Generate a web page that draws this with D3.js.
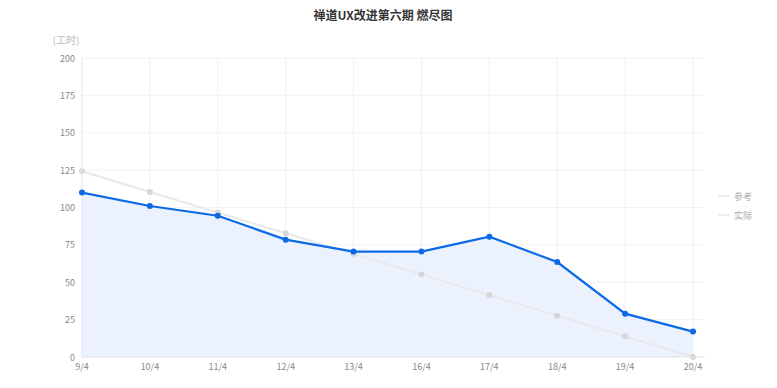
<!DOCTYPE html>
<html>
<head>
<meta charset="utf-8">
<script src="https://cdn.jsdelivr.net/npm/d3@7"></script>
<style>
  html, body { margin: 0; padding: 0; background: #fff; }
  svg { display: block; font-family: "Noto Sans CJK SC", "Noto Sans", sans-serif; }
</style>
</head>
<body>
<svg id="chart" width="777" height="388"></svg>
<script>
// ─── Data ─────────────────────────────────────────────────────────────────────
const categories = ['9/4', '10/4', '11/4', '12/4', '13/4', '16/4', '17/4', '18/4', '19/4', '20/4'];
const planned    = [124.2, 110.4, 96.6, 82.8, 69, 55.2, 41.4, 27.6, 13.8, 0];
const actual     = [110, 101, 94.5, 78.5, 70.5, 70.5, 80.5, 63.5, 29, 17];
const yTicks     = [0, 25, 50, 75, 100, 125, 150, 175, 200];
const seriesNames = ['参考', '实际'];

const plotL = 82, plotR = 693, gridR = 705, plotT = 58, plotB = 357;

const svg = d3.select('#chart');

const x = d3.scalePoint().domain(categories).range([plotL, plotR]);
const y = d3.scaleLinear().domain([0, 200]).range([plotB, plotT]);

// ─── Title ────────────────────────────────────────────────────────────────────
svg.append('text')
  .attr('x', 383).attr('y', 20)
  .attr('text-anchor', 'middle')
  .attr('font-size', 12).attr('font-weight', 'bold')
  .attr('fill', '#333')
  .text('禅道UX改进第六期 燃尽图');

svg.append('text')
  .attr('x', 66).attr('y', 44)
  .attr('text-anchor', 'middle')
  .attr('font-size', 10).attr('fill', '#bbb')
  .text('(工时)');

// ─── Grid ─────────────────────────────────────────────────────────────────────
const grid = svg.append('g');
grid.selectAll('line.h')
  .data(yTicks.filter(d => d > 0))
  .join('line')
  .attr('class', 'h')
  .attr('x1', plotL).attr('x2', gridR)
  .attr('y1', d => y(d)).attr('y2', d => y(d))
  .attr('stroke', '#f3f3f5');
grid.selectAll('line.v')
  .data(categories)
  .join('line')
  .attr('class', 'v')
  .attr('x1', d => x(d)).attr('x2', d => x(d))
  .attr('y1', plotT).attr('y2', plotB)
  .attr('stroke', '#f1f1f5');

// ─── Area + lines ─────────────────────────────────────────────────────────────
const area = d3.area()
  .x((d, i) => x(categories[i]))
  .y0(y(0))
  .y1(d => y(d));
svg.append('path')
  .datum(actual)
  .attr('d', area)
  .attr('fill', '#ebf2fe');

const line = d3.line().x((d, i) => x(categories[i])).y(d => y(d));

svg.append('path')
  .datum(planned)
  .attr('d', line)
  .attr('fill', 'none')
  .attr('stroke', '#e8e8ea')
  .attr('stroke-width', 2);
svg.append('g').selectAll('circle')
  .data(planned)
  .join('circle')
  .attr('cx', (d, i) => x(categories[i]))
  .attr('cy', d => y(d))
  .attr('r', 3)
  .attr('fill', '#d6d6d8');

// axes
svg.append('line')
  .attr('x1', plotL).attr('x2', gridR)
  .attr('y1', plotB).attr('y2', plotB)
  .attr('stroke', '#e3e3e8');
svg.append('line')
  .attr('x1', plotL).attr('x2', plotL)
  .attr('y1', plotT).attr('y2', plotB)
  .attr('stroke', '#e4e8f4');

svg.append('path')
  .datum(actual)
  .attr('d', line)
  .attr('fill', 'none')
  .attr('stroke', '#0c6ae6')
  .attr('stroke-width', 2.2);
svg.append('g').selectAll('circle')
  .data(actual)
  .join('circle')
  .attr('cx', (d, i) => x(categories[i]))
  .attr('cy', d => y(d))
  .attr('r', 3)
  .attr('fill', '#0c6ae6');

// ─── Tick labels ──────────────────────────────────────────────────────────────
svg.append('g').selectAll('text')
  .data(yTicks)
  .join('text')
  .attr('x', 75).attr('y', d => y(d) + 3.5)
  .attr('text-anchor', 'end')
  .attr('font-size', 9).attr('fill', '#888')
  .text(d => d);

svg.append('g').selectAll('text')
  .data(categories)
  .join('text')
  .attr('x', d => x(d)).attr('y', 370)
  .attr('text-anchor', 'middle')
  .attr('font-size', 9).attr('fill', '#888')
  .text(d => d);

// ─── Legend ───────────────────────────────────────────────────────────────────
const legend = svg.append('g').selectAll('g')
  .data(seriesNames)
  .join('g')
  .attr('transform', (d, i) => `translate(718,${196 + i * 19})`);
legend.append('line')
  .attr('x1', 0).attr('x2', 12)
  .attr('stroke', '#e8e8e8').attr('stroke-width', 1.5);
legend.append('text')
  .attr('x', 16).attr('y', 3.5)
  .attr('font-size', 9).attr('fill', '#aaa')
  .text(d => d);
</script>
</body>
</html>
